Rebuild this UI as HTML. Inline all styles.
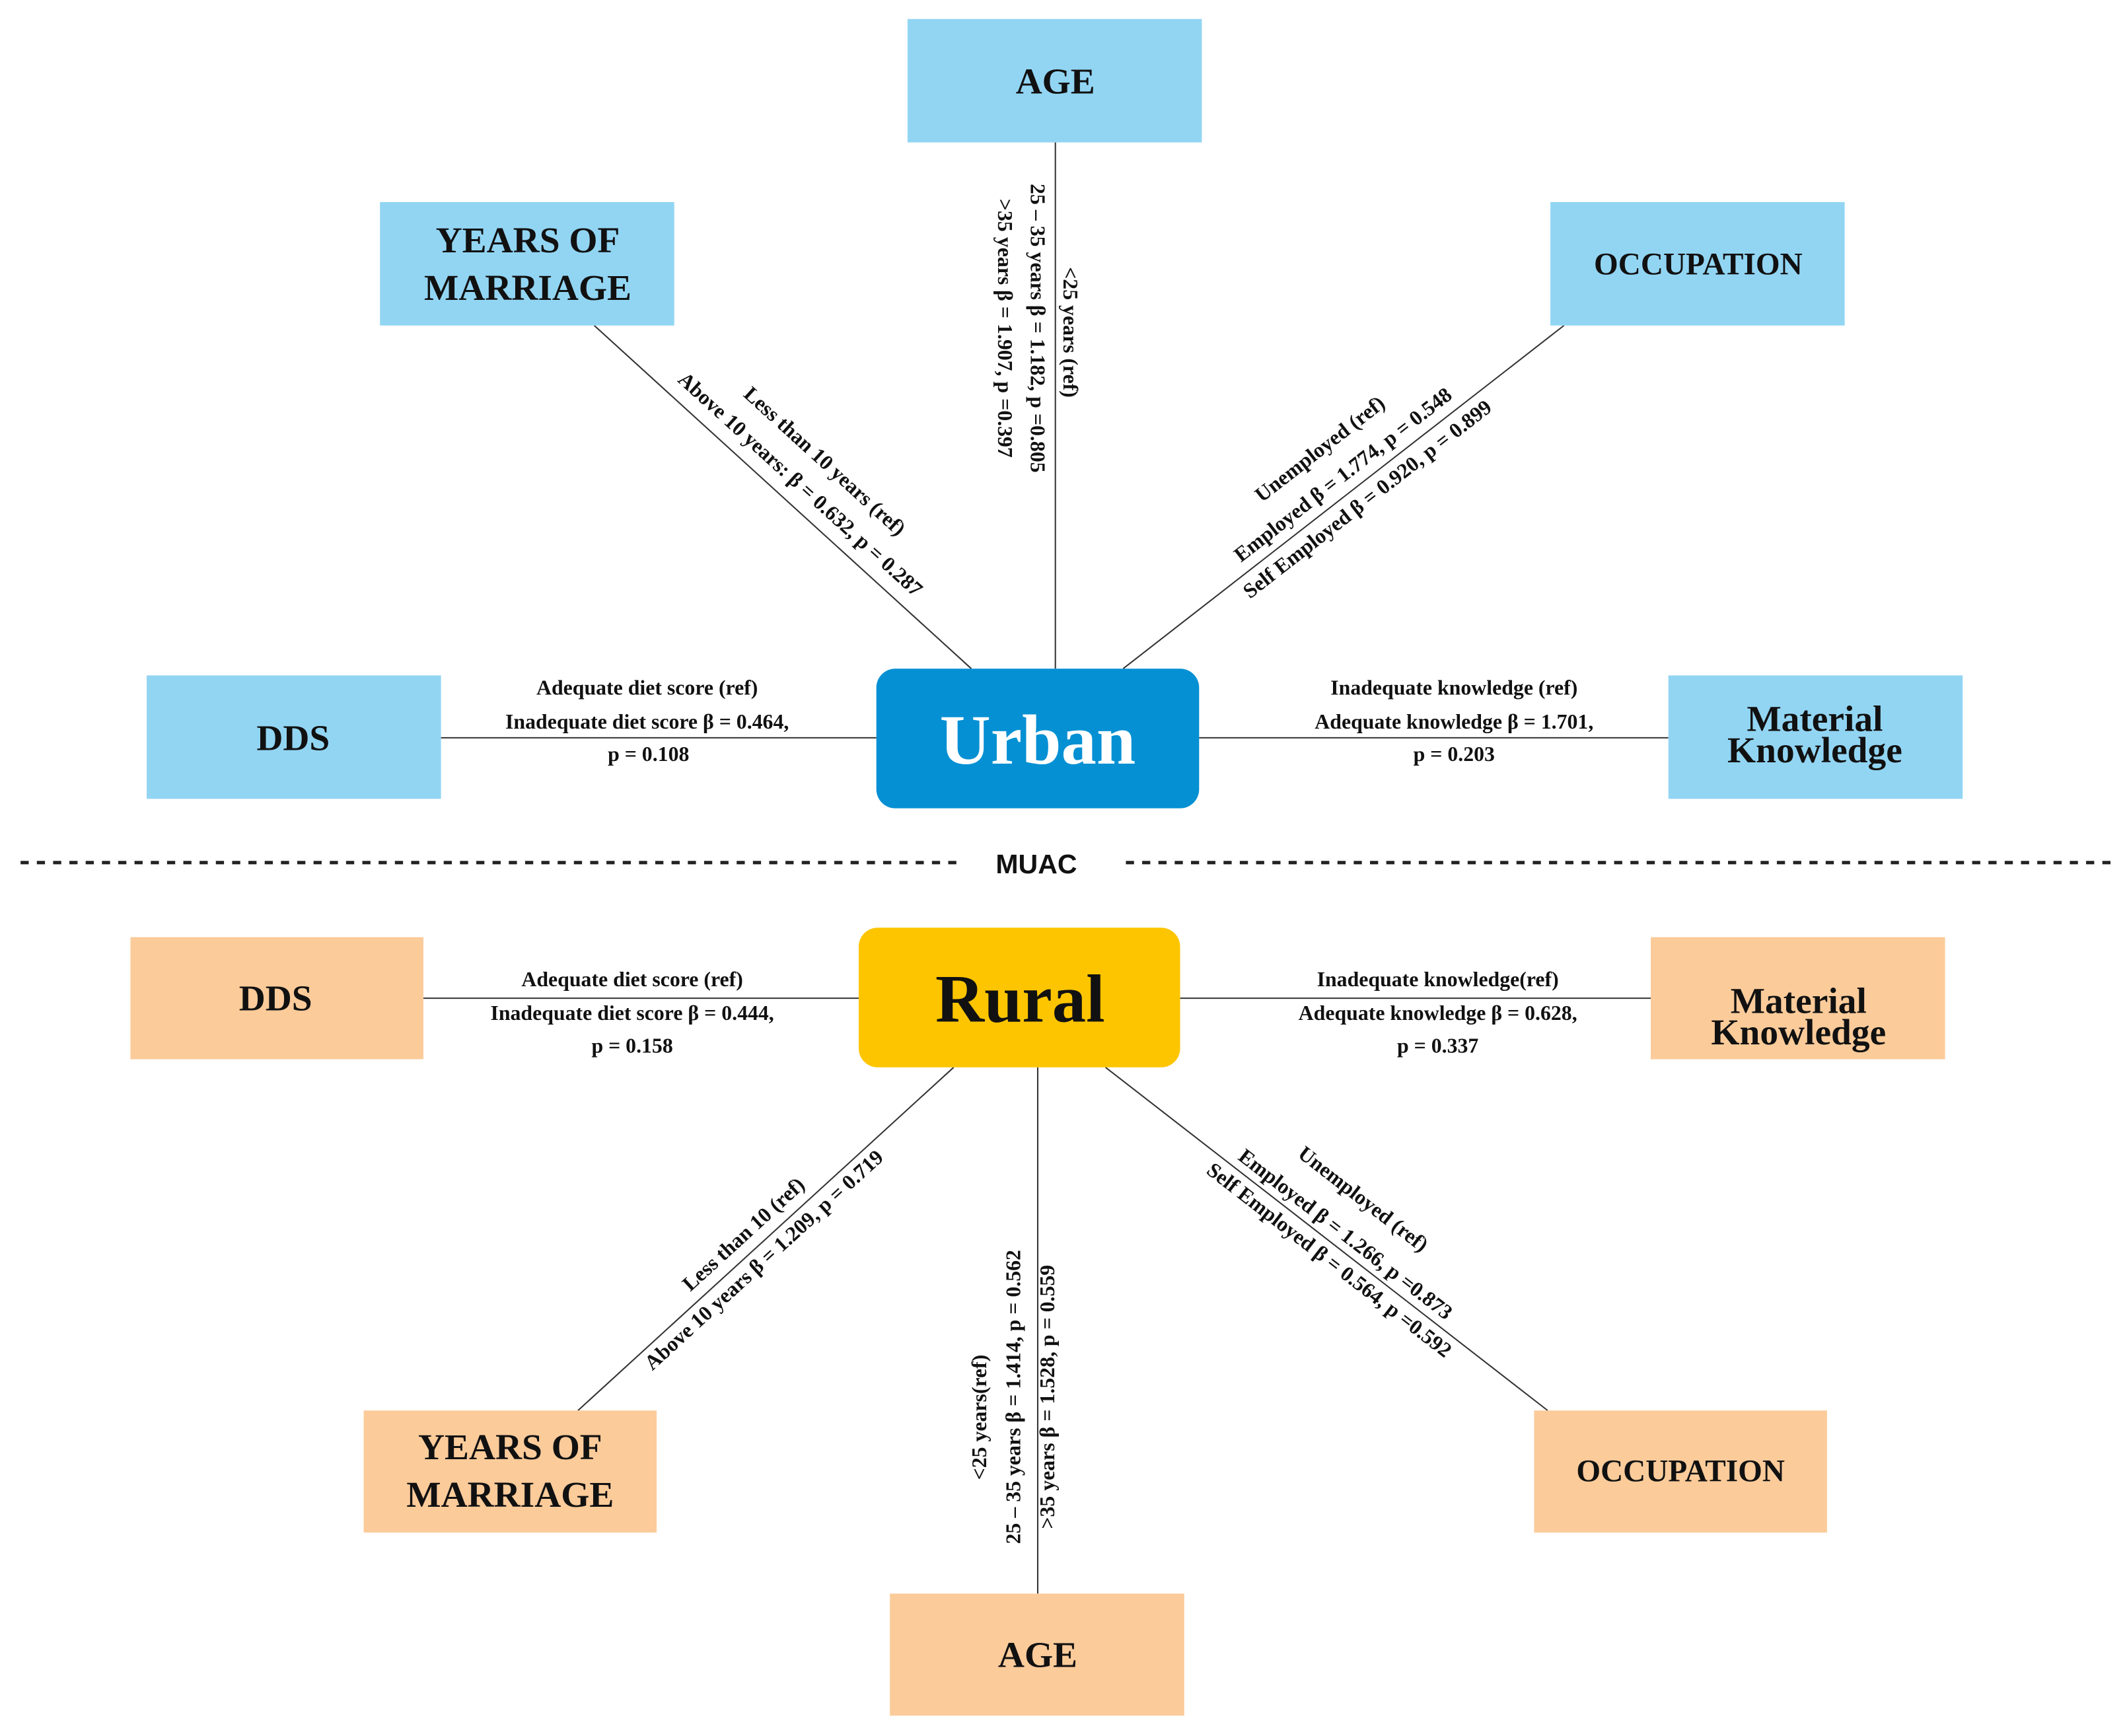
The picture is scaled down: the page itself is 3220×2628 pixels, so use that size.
<!DOCTYPE html>
<html><head><meta charset="utf-8"><style>
html,body{margin:0;padding:0;background:#fff;}
svg{display:block;}
text{font-family:"Liberation Serif",serif;font-weight:bold;fill:#111;}
.l{font-size:15.5px;}
.b{font-size:27px;}
</style></head><body>
<svg width="3220" height="2628" viewBox="0 0 1568 1280" xmlns="http://www.w3.org/2000/svg">
<rect width="1568" height="1280" fill="#fff"/>
<g stroke="#333" stroke-width="1">
<line x1="778" y1="105" x2="778" y2="493"/>
<line x1="438" y1="240" x2="716" y2="493"/>
<line x1="1153" y1="240" x2="828" y2="493"/>
<line x1="325" y1="544" x2="646" y2="544"/>
<line x1="884" y1="544" x2="1230" y2="544"/>
<line x1="312" y1="736" x2="633" y2="736"/>
<line x1="870" y1="736" x2="1217" y2="736"/>
<line x1="426" y1="1040" x2="703" y2="787"/>
<line x1="765" y1="787" x2="765" y2="1175"/>
<line x1="815" y1="787" x2="1141" y2="1040"/>
</g>
<g stroke="#222" stroke-width="2.5" stroke-dasharray="6,6">
<line x1="15" y1="636" x2="705" y2="636"/>
<line x1="830" y1="636" x2="1558" y2="636"/>
</g>
<text x="764" y="637" text-anchor="middle" dominant-baseline="central" style="font-family:'Liberation Sans',sans-serif;font-size:20px;font-weight:bold;">MUAC</text>
<!-- urban boxes -->
<g fill="#92d5f3">
<rect x="669" y="14" width="217" height="91"/>
<rect x="280" y="149" width="217" height="91"/>
<rect x="1143" y="149" width="217" height="91"/>
<rect x="108" y="498" width="217" height="91"/>
<rect x="1230" y="498" width="217" height="91"/>
</g>
<rect x="646" y="493" width="238" height="103" rx="14" fill="#0590d3"/>
<text x="765" y="546" text-anchor="middle" dominant-baseline="central" style="font-size:52px;fill:#fff;">Urban</text>
<g class="b" text-anchor="middle" dominant-baseline="central">
<text class="b" x="778" y="60">AGE</text>
<text class="b" x="389" y="177">YEARS OF</text>
<text class="b" x="389" y="212">MARRIAGE</text>
<text class="b" x="1252" y="195" style="font-size:23px">OCCUPATION</text>
<text class="b" x="216" y="544">DDS</text>
<text class="b" x="1338" y="530">Material</text>
<text class="b" x="1338" y="553">Knowledge</text>
</g>
<!-- rural boxes -->
<g fill="#fbcb9a">
<rect x="96" y="691" width="216" height="90"/>
<rect x="1217" y="691" width="217" height="90"/>
<rect x="268" y="1040" width="216" height="90"/>
<rect x="1131" y="1040" width="216" height="90"/>
<rect x="656" y="1175" width="217" height="90"/>
</g>
<rect x="633" y="684" width="237" height="103" rx="14" fill="#fdc500"/>
<text x="752" y="737" text-anchor="middle" dominant-baseline="central" style="font-size:50px;fill:#111;">Rural</text>
<g text-anchor="middle" dominant-baseline="central">
<text class="b" x="203" y="736">DDS</text>
<text class="b" x="1326" y="738">Material</text>
<text class="b" x="1326" y="761">Knowledge</text>
<text class="b" x="376" y="1067">YEARS OF</text>
<text class="b" x="376" y="1102">MARRIAGE</text>
<text class="b" x="1239" y="1085" style="font-size:23px">OCCUPATION</text>
<text class="b" x="765" y="1220">AGE</text>
</g>
<!-- labels -->
<g class="l" text-anchor="middle" dominant-baseline="central">
<text class="l" transform="translate(789,245) rotate(90)">&lt;25 years (ref)</text>
<text class="l" transform="translate(765,242) rotate(90)">25 – 35 years β = 1.182, p =0.805</text>
<text class="l" transform="translate(741,242) rotate(90)">&gt;35 years β = 1.907, p =0.397</text>
<text class="l" transform="translate(608,340) rotate(42.3)">Less than 10 years (ref)</text>
<text class="l" transform="translate(590,357) rotate(42.3)">Above 10 years: β = 0.632, p = 0.287</text>
<text class="l" transform="translate(973,331) rotate(-37.9)">Unemployed (ref)</text>
<text class="l" transform="translate(990,350) rotate(-37.9)">Employed β = 1.774, p = 0.548</text>
<text class="l" transform="translate(1008,368) rotate(-37.9)">Self Employed β = 0.920, p = 0.899</text>
<text class="l" x="477" y="507">Adequate diet score (ref)</text>
<text class="l" x="477" y="532">Inadequate diet score β = 0.464,</text>
<text class="l" x="478" y="556">p =  0.108</text>
<text class="l" x="1072" y="507">Inadequate knowledge (ref)</text>
<text class="l" x="1072" y="532">Adequate knowledge β = 1.701,</text>
<text class="l" x="1072" y="556">p = 0.203</text>
<text class="l" x="466" y="722">Adequate diet score (ref)</text>
<text class="l" x="466" y="747">Inadequate diet score β = 0.444,</text>
<text class="l" x="466" y="771">p = 0.158</text>
<text class="l" x="1060" y="722">Inadequate knowledge(ref)</text>
<text class="l" x="1060" y="747">Adequate knowledge β = 0.628,</text>
<text class="l" x="1060" y="771">p = 0.337</text>
<text class="l" transform="translate(548,910) rotate(-42.4)">Less than 10 (ref)</text>
<text class="l" transform="translate(563,929) rotate(-42.4)">Above 10 years β = 1.209,  p = 0.719</text>
<text class="l" transform="translate(722,1045) rotate(-90)">&lt;25 years(ref)</text>
<text class="l" transform="translate(747,1030) rotate(-90)">25 – 35 years β = 1.414, p = 0.562</text>
<text class="l" transform="translate(772,1030) rotate(-90)">&gt;35 years β = 1.528, p = 0.559</text>
<text class="l" transform="translate(1005,884) rotate(37.8)">Unemployed (ref)</text>
<text class="l" transform="translate(992,910) rotate(37.8)">Employed β = 1.266, p =0.873</text>
<text class="l" transform="translate(980,929) rotate(37.8)">Self Employed β = 0.564, p =0.592</text>
</g>
</svg>
</body></html>
